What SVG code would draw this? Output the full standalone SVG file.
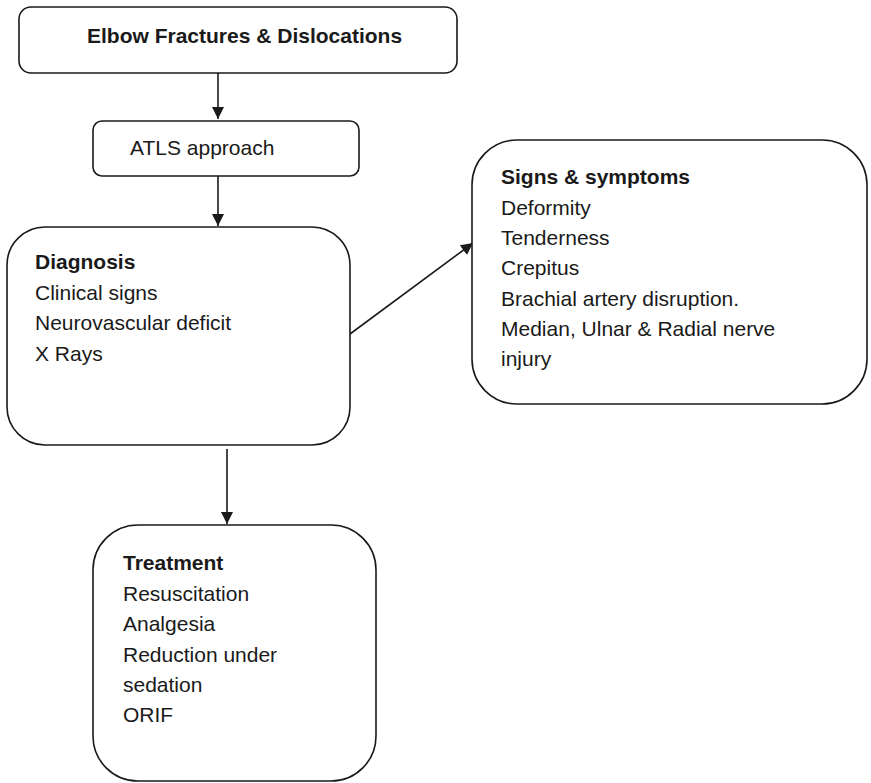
<svg xmlns="http://www.w3.org/2000/svg" width="871" height="783" viewBox="0 0 871 783">
  <style>
    .box { fill: #ffffff; stroke: #1a1a1a; stroke-width: 1.6; }
    .edge { stroke: #1a1a1a; stroke-width: 1.6; fill: none; }
    text { font-family: "Liberation Sans", Arial, sans-serif; font-size: 21px; fill: #1a1a1a; }
    .b { font-weight: bold; }
  </style>
  <defs>
    <marker id="arrow" viewBox="0 0 12 12" refX="12" refY="6" markerWidth="12" markerHeight="12" markerUnits="userSpaceOnUse" orient="auto">
      <path d="M0,0 L12,6 L0,12 Z" fill="#1a1a1a"/>
    </marker>
  </defs>
  <rect width="871" height="783" fill="#ffffff"/>

  <g id="connectors">
    <line class="edge" x1="218" y1="73" x2="218" y2="119" marker-end="url(#arrow)"/>
    <line class="edge" x1="218" y1="176" x2="218" y2="226" marker-end="url(#arrow)"/>
    <line class="edge" x1="350" y1="334" x2="473" y2="243" marker-end="url(#arrow)"/>
    <line class="edge" x1="227" y1="449" x2="227" y2="524" marker-end="url(#arrow)"/>
  </g>

  <g id="elbow">
    <rect class="box" x="19" y="7" width="438" height="66" rx="12"/>
    <text class="b" x="87" y="43">Elbow Fractures &amp; Dislocations</text>
  </g>

  <g id="atls">
    <rect class="box" x="93" y="121" width="266" height="55" rx="9"/>
    <text x="130" y="155">ATLS approach</text>
  </g>

  <g id="diagnosis">
    <rect class="box" x="7" y="227" width="343" height="218" rx="38"/>
    <text class="b" x="35" y="269">Diagnosis</text>
    <text x="35" y="300">Clinical signs</text>
    <text x="35" y="330">Neurovascular deficit</text>
    <text x="35" y="361">X Rays</text>
  </g>

  <g id="signs">
    <rect class="box" x="472" y="140" width="395" height="264" rx="45"/>
    <text class="b" x="501" y="184">Signs &amp; symptoms</text>
    <text x="501" y="215">Deformity</text>
    <text x="501" y="245">Tenderness</text>
    <text x="501" y="275">Crepitus</text>
    <text x="501" y="306">Brachial artery disruption.</text>
    <text x="501" y="336">Median, Ulnar &amp; Radial nerve</text>
    <text x="501" y="366">injury</text>
  </g>

  <g id="treatment">
    <rect class="box" x="93" y="525" width="283" height="256" rx="45"/>
    <text class="b" x="123" y="570">Treatment</text>
    <text x="123" y="601">Resuscitation</text>
    <text x="123" y="631">Analgesia</text>
    <text x="123" y="662">Reduction under</text>
    <text x="123" y="692">sedation</text>
    <text x="123" y="722">ORIF</text>
  </g>
</svg>
